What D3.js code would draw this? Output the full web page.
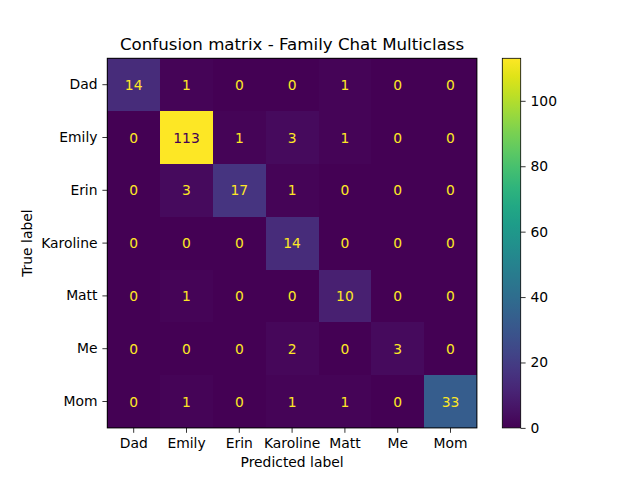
<!DOCTYPE html>
<html><head><meta charset="utf-8">
<script src="https://cdn.jsdelivr.net/npm/d3@7"></script>
<style>body{margin:0;background:#fff}svg{display:block}text{font-family:"DejaVu Sans",sans-serif}</style>
</head><body>
<svg id="c" width="640" height="480"></svg>
<script>
const labels = ["Dad","Emily","Erin","Karoline","Matt","Me","Mom"];
const row_Dad = [14,1,0,0,1,0,0];
const row_Emily = [0,113,1,3,1,0,0];
const row_Erin = [0,3,17,1,0,0,0];
const row_Karoline = [0,0,0,14,0,0,0];
const row_Matt = [0,1,0,0,10,0,0];
const row_Me = [0,0,0,2,0,3,0];
const row_Mom = [0,1,0,1,1,0,33];
const matrix = [row_Dad,row_Emily,row_Erin,row_Karoline,row_Matt,row_Me,row_Mom];
const cbTicks = [0,20,40,60,80,100];

const FS = "13.89px";
const svg = d3.select("#c");
const L=107.3,T=58.3,S=369.6;
const x = d3.scaleBand().domain(labels).range([L,L+S]);
const y = d3.scaleBand().domain(labels).range([T,T+S]);
const vmax = d3.max(matrix.flat()), vmin = d3.min(matrix.flat());
const color = v => d3.interpolateViridis((v-vmin)/(vmax-vmin));
const thresh = (vmax+vmin)/2;

const cells=[];
matrix.forEach((r,i)=>r.forEach((v,j)=>cells.push({t:labels[i],p:labels[j],v})));
svg.append("g").attr("shape-rendering","crispEdges").selectAll("rect").data(cells).join("rect")
  .attr("x",d=>x(d.p)).attr("y",d=>y(d.t)).attr("width",x.bandwidth()+0.5).attr("height",y.bandwidth()+0.5)
  .attr("fill",d=>color(d.v));
svg.append("g").selectAll("text").data(cells).join("text")
  .attr("x",d=>x(d.p)+x.bandwidth()/2).attr("y",d=>y(d.t)+y.bandwidth()/2)
  .attr("text-anchor","middle").attr("dominant-baseline","central")
  .attr("font-size",FS)
  .attr("fill",d=>d.v<thresh?d3.interpolateViridis(1):d3.interpolateViridis(0))
  .text(d=>d.v);
svg.append("rect").attr("x",L).attr("y",T).attr("width",S).attr("height",S)
  .attr("fill","none").attr("stroke","#000").attr("stroke-width",1);

const xa = svg.append("g").attr("transform",`translate(0,${T+S})`)
  .call(d3.axisBottom(x).tickSize(4.9).tickPadding(4.9));
const ya = svg.append("g").attr("transform",`translate(${L},0)`)
  .call(d3.axisLeft(y).tickSize(4.9).tickPadding(4.9));
[xa,ya].forEach(a=>{a.select(".domain").remove();a.selectAll("text").attr("font-size",FS).attr("font-family","DejaVu Sans").attr("fill","#000");a.selectAll("line").attr("stroke","#000").attr("stroke-width",0.8);});

svg.append("text").attr("x",L+S/2).attr("y",467).attr("text-anchor","middle").attr("font-size",FS).text("Predicted label");
svg.append("text").attr("transform",`translate(32,${T+S/2}) rotate(-90)`).attr("text-anchor","middle").attr("font-size",FS).text("True label");
svg.append("text").attr("x",L+S/2).attr("y",49.5).attr("text-anchor","middle").attr("font-size","16.67px").text("Confusion matrix - Family Chat Multiclass");

// colorbar
const cbx=502.3, cbw=18.4;
const cy = d3.scaleLinear().domain([vmin,vmax]).range([T+S,T]);
const defs = svg.append("defs");
const grad = defs.append("linearGradient").attr("id","g").attr("x1",0).attr("y1",1).attr("x2",0).attr("y2",0);
d3.range(0,1.001,0.05).forEach(t=>grad.append("stop").attr("offset",t).attr("stop-color",d3.interpolateViridis(t)));
svg.append("rect").attr("x",cbx).attr("y",T).attr("width",cbw).attr("height",S).attr("fill","url(#g)").attr("stroke","#000").attr("stroke-width",0.8);
const ca = svg.append("g").attr("transform",`translate(${cbx+cbw},0)`)
  .call(d3.axisRight(cy).tickValues(cbTicks).tickSize(4.9).tickPadding(4.9));
ca.select(".domain").remove();
ca.selectAll("text").attr("font-size",FS).attr("font-family","DejaVu Sans").attr("fill","#000");
ca.selectAll("line").attr("stroke","#000").attr("stroke-width",0.8);
</script>
</body></html>
